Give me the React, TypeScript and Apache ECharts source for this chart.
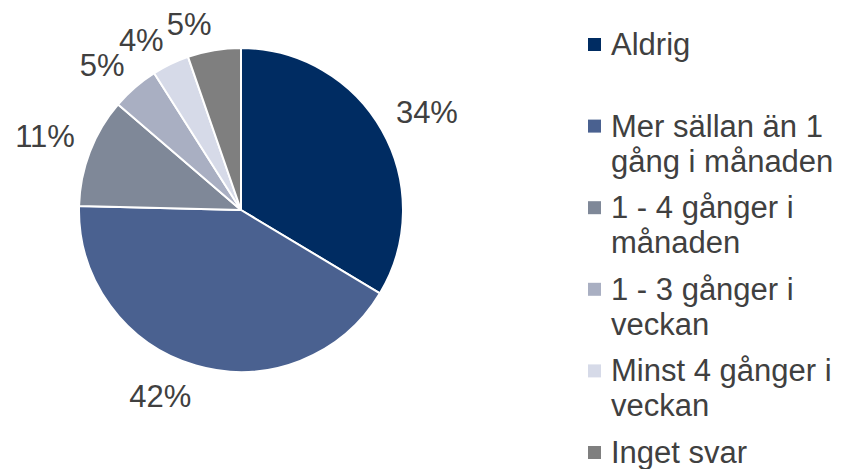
import React, { useEffect, useRef } from "react";
import * as echarts from "echarts";

const categories = [
  "Aldrig",
  "Mer sällan än 1 gång i månaden",
  "1 - 4 gånger i månaden",
  "1 - 3 gånger i veckan",
  "Minst 4 gånger i veckan",
  "Inget svar",
];
const legendLabels = [
  "Aldrig\n ",
  "Mer sällan än 1\ngång i månaden",
  "1 - 4 gånger i\nmånaden",
  "1 - 3 gånger i\nveckan",
  "Minst 4 gånger i\nveckan",
  "Inget svar\n ",
];
const values = [33.6, 41.8, 10.9, 4.7, 3.7, 5.3];
const colors = ["#002C62", "#4A6190", "#7F8898", "#A9AFC2", "#D6DAE8", "#7F7F7F"];

const FONT = "'Liberation Sans', Arial, sans-serif";
const TEXT = "#404040";
const CX = 241;
const CY = 210;
// square marker aligned with the first text line of a two-line legend slot
const LEGEND_ICON = "path://M0,0M0,11H13V24H0ZM13,70";

export default function App() {
  const ref = useRef<HTMLDivElement>(null);
  useEffect(() => {
    if (!ref.current) return;
    const chart = echarts.init(ref.current, null, { renderer: "svg" });
    const data = categories.map((name, i) => ({ name, value: values[i] }));
    const legendMap: Record<string, string> = {};
    categories.forEach((c, i) => (legendMap[c] = legendLabels[i]));
    chart.setOption({
      animation: false,
      color: colors,
      textStyle: { fontFamily: FONT },
      legend: {
        orient: "vertical",
        left: 588,
        top: 27,
        height: 1000,
        padding: 0,
        itemGap: 11.6,
        itemWidth: 13,
        itemHeight: 70,
        icon: LEGEND_ICON,
        selectedMode: false,
        data: categories,
        formatter: (n: string) => legendMap[n],
        itemStyle: { borderWidth: 0 },
        textStyle: {
          fontFamily: FONT,
          fontSize: 31,
          lineHeight: 35,
          color: TEXT,
          padding: [0, 0, 0, 5],
        },
      },
      series: [
        {
          type: "pie",
          center: [CX, CY],
          radius: [0, 162],
          startAngle: 90,
          clockwise: true,
          silent: true,
          avoidLabelOverlap: false,
          label: {
            show: true,
            position: "outside",
            distanceToLabelLine: 0,
            formatter: (p: any) => Math.round(p.value) + "%",
            fontFamily: FONT,
            fontSize: 31,
            color: TEXT,
          },
          labelLine: { show: false, length: 16, length2: 0 },
          labelLayout: (p: any) => {
            const r = p.labelRect;
            const upper = r.y + r.height / 2 < CY;
            return { verticalAlign: upper ? "bottom" : "top", dy: upper ? 6 : 0 };
          },
          itemStyle: { borderColor: "#ffffff", borderWidth: 2 },
          emphasis: { disabled: true },
          data,
        },
      ],
    });
    return () => chart.dispose();
  }, []);
  return (
    <div
      ref={ref}
      style={{ position: "fixed", left: 0, top: 0, width: 843, height: 469, background: "#fff" }}
    />
  );
}
